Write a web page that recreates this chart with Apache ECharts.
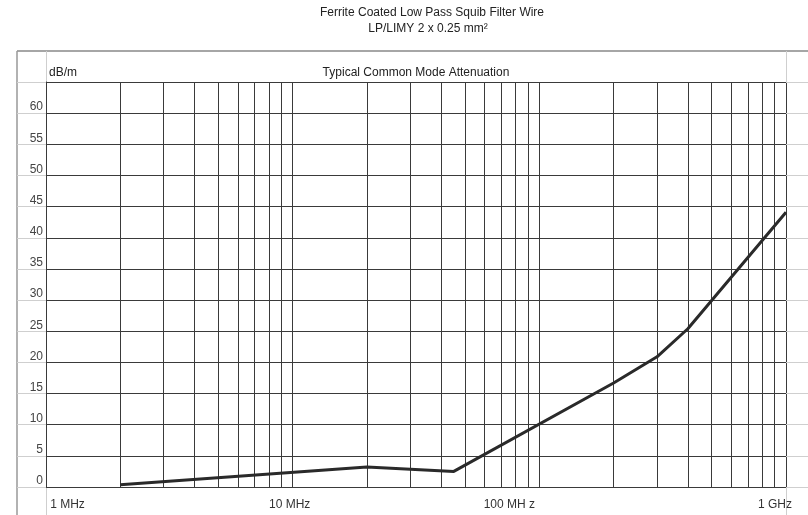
<!DOCTYPE html>
<html>
<head>
<meta charset="utf-8">
<script src="https://cdn.jsdelivr.net/npm/echarts@6/dist/echarts.min.js"></script>
<style>
html,body{margin:0;padding:0;background:#fff;}
#chart{width:808px;height:515px;}
</style>
</head>
<body>
<div id="chart"></div>
<script>
// ---- data ----
const freqMHz   = [2, 20, 45, 200, 300, 400, 1000];
const attenDb   = [0.35, 3.2, 2.5, 16.7, 20.9, 25.4, 44.1];
const decadeTicks  = [1, 10, 100, 1000];
const xTickLabels  = ['1 MHz', '10 MHz', '100 MH z', '1 GHz'];
const minorFreqs = [2,3,4,5,6,7,8,9,20,30,40,50,60,70,80,90,200,300,400,500,600,700,800,900];
const titleLines = ['Ferrite Coated Low Pass Squib Filter Wire', 'LP/LIMY 2 x 0.25 mm²'];
const plotTitle = 'Typical Common Mode Attenuation';
const yUnit = 'dB/m';
const yMin = 0, yMax = 65, yStep = 5;

const FONT = '"Liberation Sans", Arial, sans-serif';
const GRID = '#3a3a3a';
const LIGHT = '#cfcfcf';

const chart = echarts.init(document.getElementById('chart'), null, {renderer: 'canvas'});

const labelKeys = ['a', 'b', 'c', 'd'];
const option = {
  backgroundColor: '#fff',
  animation: false,
  grid: {left: 46, right: 22, top: 82, bottom: 28, containLabel: false},
  xAxis: {
    type: 'log', logBase: 10, min: 1, max: 1000,
    axisLine: {show: true, lineStyle: {color: GRID, width: 1}},
    axisTick: {show: false},
    splitLine: {show: true, lineStyle: {color: GRID, width: 1}},
    axisLabel: {
      show: true, margin: 12, color: '#333', fontFamily: FONT, fontSize: 12,
      showMinLabel: true, showMaxLabel: true,
      formatter: function (v) {
        const i = decadeTicks.findIndex(d => Math.abs(d - v) < 1e-6 * d);
        return i < 0 ? '' : '{' + labelKeys[i] + '|' + xTickLabels[i] + '}';
      },
      rich: {
        a: {fontFamily: FONT, fontSize: 12, color: '#333', padding: [0, 0, 0, 43]},
        b: {fontFamily: FONT, fontSize: 12, color: '#333', padding: [0, 6, 0, 0]},
        c: {fontFamily: FONT, fontSize: 12, color: '#333', padding: [0, 60, 0, 0]},
        d: {fontFamily: FONT, fontSize: 12, color: '#333', padding: [0, 22, 0, 0]}
      }
    }
  },
  yAxis: [{
    type: 'value', min: yMin, max: yMax, interval: yStep,
    axisLine: {show: true, lineStyle: {color: GRID, width: 1}},
    axisTick: {show: true, length: 29, lineStyle: {color: LIGHT, width: 1}},
    splitLine: {show: true, lineStyle: {color: GRID, width: 1}},
    axisLabel: {
      show: true, margin: 3, color: '#444', fontFamily: FONT, fontSize: 12,
      verticalAlign: 'bottom', showMaxLabel: true,
      formatter: v => (v >= yMax ? '' : String(v))
    }
  }, {
    type: 'value', min: yMin, max: yMax, interval: yStep, position: 'right',
    axisLine: {show: false},
    axisTick: {show: true, length: 22, lineStyle: {color: LIGHT, width: 1}},
    splitLine: {show: false},
    axisLabel: {show: false}
  }],
  series: [{
    type: 'line', name: 'minor grid', data: [], silent: true, z: 1,
    markLine: {
      silent: true, animation: false, symbol: ['none', 'none'],
      label: {show: false},
      lineStyle: {color: GRID, width: 1, type: 'solid'},
      emphasis: {disabled: true},
      data: minorFreqs.map(f => ({xAxis: f}))
    }
  }, {
    type: 'line', name: 'attenuation', z: 5,
    data: freqMHz.map((f, i) => [f, attenDb[i]]),
    showSymbol: false, symbol: 'none',
    lineStyle: {color: '#2a2a2a', width: 3},
    itemStyle: {color: '#2a2a2a'}
  }],
  graphic: [
    {type: 'text', x: 432, y: 13, style: {text: titleLines[0], font: '12px ' + FONT, fill: '#222', align: 'center', verticalAlign: 'middle'}},
    {type: 'text', x: 428, y: 29, style: {text: titleLines[1], font: '12px ' + FONT, fill: '#222', align: 'center', verticalAlign: 'middle'}},
    {type: 'text', x: 416, y: 73, style: {text: plotTitle, font: '12px ' + FONT, fill: '#222', align: 'center', verticalAlign: 'middle'}},
    {type: 'text', x: 49, y: 73, style: {text: yUnit, font: '12px ' + FONT, fill: '#222', align: 'left', verticalAlign: 'middle'}},
    // outer frame
    {type: 'line', shape: {x1: 17, y1: 51, x2: 808, y2: 51}, style: {stroke: '#888', lineWidth: 1.5}},
    {type: 'line', shape: {x1: 17, y1: 51, x2: 17, y2: 515}, style: {stroke: '#999', lineWidth: 1.5}},
    // light cell separators above and below the plot
    {type: 'line', shape: {x1: 46.5, y1: 51, x2: 46.5, y2: 82}, style: {stroke: LIGHT, lineWidth: 1}},
    {type: 'line', shape: {x1: 46.5, y1: 487, x2: 46.5, y2: 515}, style: {stroke: LIGHT, lineWidth: 1}},
    {type: 'line', shape: {x1: 786.5, y1: 51, x2: 786.5, y2: 82}, style: {stroke: LIGHT, lineWidth: 1}},
    {type: 'line', shape: {x1: 786.5, y1: 487, x2: 786.5, y2: 515}, style: {stroke: LIGHT, lineWidth: 1}}
  ]
};
chart.setOption(option);
</script>
</body>
</html>
